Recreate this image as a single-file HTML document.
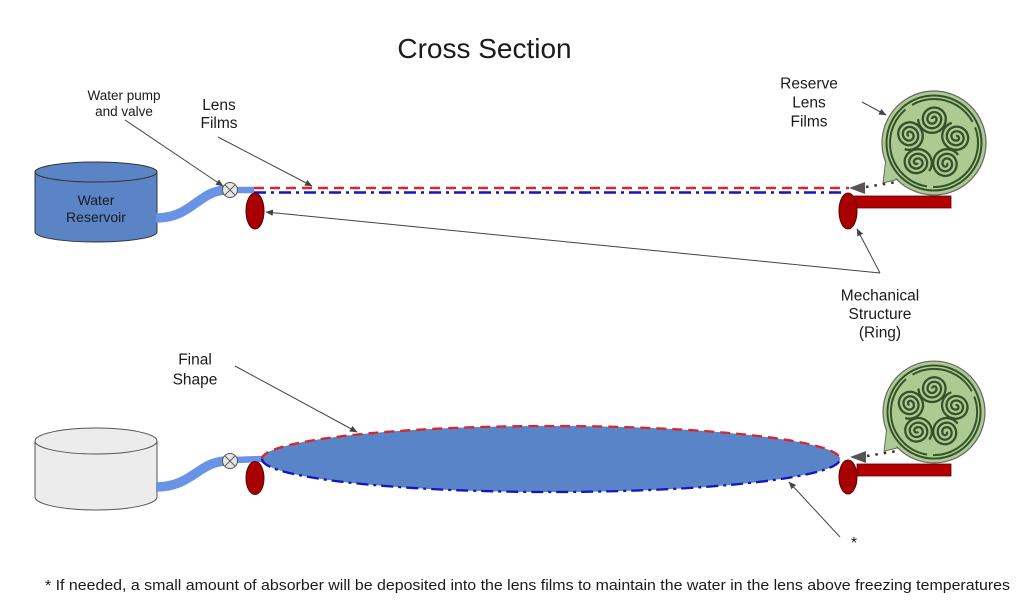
<!DOCTYPE html>
<html><head><meta charset="utf-8"><style>
html,body{margin:0;padding:0;background:#fff;}
svg{display:block;}
text{font-family:"Liberation Sans",Arial,sans-serif;fill:#1a1a1a;}
</style></head><body>
<svg width="1024" height="606" viewBox="0 0 1024 606" xmlns="http://www.w3.org/2000/svg">
<defs>
<marker id="ah" markerWidth="8" markerHeight="8" refX="7" refY="4" orient="auto" markerUnits="userSpaceOnUse">
<path d="M0,0.8 L7.5,4 L0,7.2 Z" fill="#444"/>
</marker>
<g id="sp">
<path d="M0,0 a2.3,2.3 0 0 1 4.6,0 a4.6,4.6 0 0 1 -9.2,0 a6.9,6.9 0 0 1 13.8,0 a9.2,9.2 0 0 1 -18.4,0 a11.5,11.5 0 0 1 23,0 a13.8,13.8 0 0 1 -27.6,0" fill="none" stroke="#34522a" stroke-width="2.3"/>
</g>
<g id="reel">
<path d="M-48,15 L-51,40 L-31,35 Z" fill="#adca92" stroke="#666" stroke-width="1"/>
<circle cx="0" cy="0" r="52" fill="#adca92" stroke="#666" stroke-width="1.2"/>
<path d="M-47.5,14.5 L-50,38 L-32,34" fill="#adca92" stroke="none"/>
<circle cx="0" cy="0" r="47.5" fill="none" stroke="#34522a" stroke-width="2"/>
<circle cx="0" cy="0" r="44" fill="none" stroke="#34522a" stroke-width="2" stroke-dasharray="70 6 100 8"/>
<use href="#sp" transform="translate(-2,-24) rotate(0)"/>
<use href="#sp" transform="translate(22,-7) rotate(72)"/>
<use href="#sp" transform="translate(13,20) rotate(144)"/>
<use href="#sp" transform="translate(-16,20) rotate(216)"/>
<use href="#sp" transform="translate(-25,-7) rotate(288)"/>
</g>
</defs>

<!-- Title -->
<text x="484.5" y="58" font-size="28" text-anchor="middle">Cross Section</text>

<!-- ===== TOP SECTION ===== -->
<path d="M35,172 L35,232 A61,10 0 0 0 157,232 L157,172 Z" fill="#5a84c6" stroke="#333" stroke-width="1"/>
<ellipse cx="96" cy="172" rx="61" ry="10" fill="#5a84c6" stroke="#333" stroke-width="1"/>
<text x="96" y="205" font-size="14" text-anchor="middle">Water</text>
<text x="96" y="222" font-size="14" text-anchor="middle">Reservoir</text>

<path d="M156,218 C192,218 198,191 226,190" fill="none" stroke="#6993e4" stroke-width="9.5"/>
<path d="M234,190 L254,190" fill="none" stroke="#6993e4" stroke-width="6.5"/>
<circle cx="230" cy="190" r="7.5" fill="#e6e6e6" stroke="#555" stroke-width="1"/>
<path d="M224.7,184.7 L235.3,195.3 M235.3,184.7 L224.7,195.3" stroke="#555" stroke-width="1"/>

<line x1="254" y1="188" x2="849" y2="188" stroke="#d8262a" stroke-width="2.5" stroke-dasharray="10 6"/>
<line x1="254" y1="192.5" x2="843" y2="192.5" stroke="#1414c0" stroke-width="2.5" stroke-dasharray="12 5 3 5"/>

<ellipse cx="255" cy="211" rx="9" ry="18" fill="#a80000" stroke="#5a0000" stroke-width="1"/>

<rect x="854" y="196" width="97" height="12" fill="#b00000" stroke="#6a0000" stroke-width="0.8"/>
<ellipse cx="848" cy="211" rx="9" ry="18" fill="#a80000" stroke="#5a0000" stroke-width="1"/>

<use href="#reel" transform="translate(934,143)"/>
<line x1="866" y1="187" x2="897" y2="182" stroke="#333" stroke-width="2.5" stroke-dasharray="2.5 6"/>
<path d="M849,188 L865,182 L865,194 Z" fill="#555"/>

<text x="124" y="100" font-size="13.5" text-anchor="middle">Water pump</text>
<text x="124" y="116" font-size="13.5" text-anchor="middle">and valve</text>
<line x1="125" y1="120" x2="223" y2="186" stroke="#444" stroke-width="1" marker-end="url(#ah)"/>

<text x="219" y="110" font-size="15.5" text-anchor="middle">Lens</text>
<text x="219" y="128" font-size="15.5" text-anchor="middle">Films</text>
<line x1="218" y1="137" x2="312" y2="186" stroke="#444" stroke-width="1" marker-end="url(#ah)"/>

<text x="809" y="88.5" font-size="15.5" text-anchor="middle">Reserve</text>
<text x="809" y="107.5" font-size="15.5" text-anchor="middle">Lens</text>
<text x="809" y="126.5" font-size="15.5" text-anchor="middle">Films</text>
<line x1="862" y1="102" x2="886" y2="115" stroke="#444" stroke-width="1" marker-end="url(#ah)"/>

<line x1="880" y1="273" x2="266" y2="212" stroke="#444" stroke-width="1" marker-end="url(#ah)"/>
<line x1="880" y1="273" x2="857" y2="229" stroke="#444" stroke-width="1" marker-end="url(#ah)"/>
<text x="880" y="300.5" font-size="15.5" text-anchor="middle">Mechanical</text>
<text x="880" y="319" font-size="15.5" text-anchor="middle">Structure</text>
<text x="880" y="337.5" font-size="15.5" text-anchor="middle">(Ring)</text>

<!-- ===== BOTTOM SECTION ===== -->
<path d="M35,441 L35,497 A61,13 0 0 0 157,497 L157,441 Z" fill="#ececec" stroke="#555" stroke-width="1"/>
<ellipse cx="96" cy="441" rx="61" ry="13" fill="#ececec" stroke="#555" stroke-width="1"/>

<path d="M156,487 C192,487 198,462 226,461" fill="none" stroke="#6993e4" stroke-width="9.5"/>
<path d="M234,460 L263,459" fill="none" stroke="#6993e4" stroke-width="6.5"/>
<circle cx="230" cy="461" r="7.5" fill="#e6e6e6" stroke="#555" stroke-width="1"/>
<path d="M224.7,455.7 L235.3,466.3 M235.3,455.7 L224.7,466.3" stroke="#555" stroke-width="1"/>

<ellipse cx="255" cy="478" rx="9" ry="16.5" fill="#a80000" stroke="#5a0000" stroke-width="1"/>

<ellipse cx="551" cy="459" rx="289" ry="33" fill="#5a84c8"/>
<path d="M262,459 A289,33 0 0 1 840,459" fill="none" stroke="#d8262a" stroke-width="2.3" stroke-dasharray="10 6"/>
<path d="M262,459 A289,33 0 0 0 840,459" fill="none" stroke="#1414c0" stroke-width="2.3" stroke-dasharray="12 5 3 5"/>

<rect x="857" y="464" width="94" height="12" fill="#b00000" stroke="#6a0000" stroke-width="0.8"/>
<ellipse cx="848" cy="477" rx="9" ry="17" fill="#a80000" stroke="#5a0000" stroke-width="1"/>

<use href="#reel" transform="translate(934,412) scale(0.98)"/>
<line x1="867" y1="456" x2="897" y2="451" stroke="#333" stroke-width="2.5" stroke-dasharray="2.5 6"/>
<path d="M850,457 L866,451 L866,463 Z" fill="#555"/>

<text x="195" y="364.5" font-size="15.5" text-anchor="middle">Final</text>
<text x="195" y="384.5" font-size="15.5" text-anchor="middle">Shape</text>
<line x1="235" y1="366" x2="357" y2="432" stroke="#444" stroke-width="1" marker-end="url(#ah)"/>

<line x1="840" y1="537" x2="789" y2="482" stroke="#444" stroke-width="1" marker-end="url(#ah)"/>
<text x="854" y="548" font-size="16" text-anchor="middle">*</text>

<text x="45" y="590" font-size="15" textLength="965" lengthAdjust="spacingAndGlyphs">* If needed, a small amount of absorber will be deposited into the lens films to maintain the water in the lens above freezing temperatures</text>
</svg>
</body></html>
